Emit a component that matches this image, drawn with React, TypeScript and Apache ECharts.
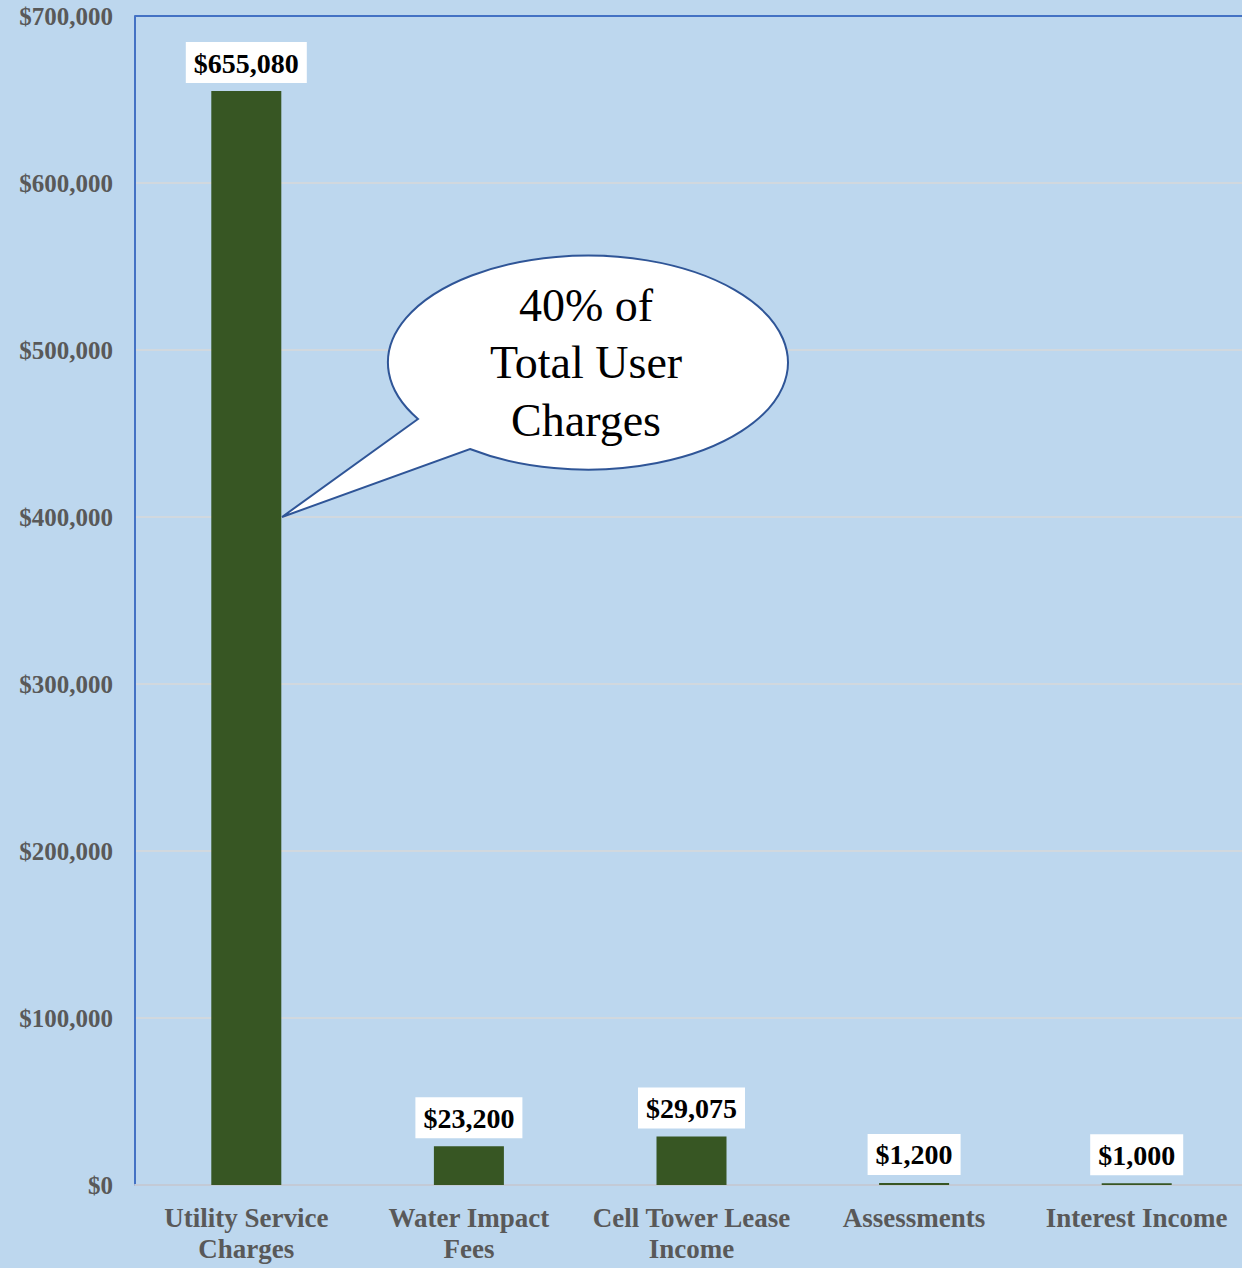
import React, { useEffect, useRef } from "react";
import * as echarts from "echarts";

const categories = [
  "Utility Service\nCharges",
  "Water Impact\nFees",
  "Cell Tower Lease\nIncome",
  "Assessments",
  "Interest Income",
];
const values = [655080, 23200, 29075, 1200, 1000];
const yMin = 0;
const yMax = 700000;
const yInterval = 100000;
const calloutLines = ["40% of", "Total User", "Charges"];

const fmt = (v: number) => "$" + v.toLocaleString("en-US");

echarts.graphic.registerShape(
  "callout",
  echarts.graphic.extendPath(
    "M418 419 L282 517 L470 449 A200 107 0 1 0 418 419 Z",
    {}
  ) as any
);

export default function App() {
  const ref = useRef<HTMLDivElement>(null);
  useEffect(() => {
    if (!ref.current) return;
    const chart = echarts.init(ref.current, undefined, { renderer: "svg" });
    const serif = "Liberation Serif, Times New Roman, serif";
    chart.setOption({
      animation: false,
      backgroundColor: "#BDD7EE",
      grid: { left: 135, right: 0, top: 16, bottom: 83 },
      xAxis: {
        type: "category",
        data: categories,
        axisTick: { show: false },
        axisLine: { lineStyle: { color: "#C3CAD6", width: 2 } },
        axisLabel: {
          interval: 0,
          margin: 17,
          color: "#595959",
          fontFamily: serif,
          fontWeight: "bold",
          fontSize: 27,
          lineHeight: 31,
        },
      },
      yAxis: {
        type: "value",
        min: yMin,
        max: yMax,
        interval: yInterval,
        axisLine: { show: true, lineStyle: { color: "#4472C4", width: 2 } },
        axisTick: { show: false },
        splitLine: { lineStyle: { color: "#D9D9D9", width: 1.5 } },
        axisLabel: {
          margin: 22,
          color: "#595959",
          fontFamily: serif,
          fontWeight: "bold",
          fontSize: 25,
          formatter: (v: number) => fmt(v),
        },
      },
      series: [
        {
          type: "bar",
          data: values,
          barWidth: 70,
          itemStyle: { color: "#375623" },
          label: {
            show: true,
            position: "top",
            distance: 8,
            formatter: (p: any) => fmt(p.value),
            backgroundColor: "#FFFFFF",
            padding: [6, 8, 5, 8],
            color: "#000000",
            fontFamily: serif,
            fontWeight: "bold",
            fontSize: 28,
            lineHeight: 30,
          },
          markLine: {
            silent: true,
            symbol: "none",
            label: { show: false },
            lineStyle: { color: "#4472C4", width: 2, type: "solid" },
            data: [{ yAxis: yMax }],
          },
        },
      ],
      graphic: [
        {
          type: "callout",
          x: 0,
          y: 0,
          z: 100,
          style: { fill: "#FFFFFF", stroke: "#2F5597", lineWidth: 2 },
        },
        ...calloutLines.map((t, i) => ({
          type: "text",
          z: 101,
          x: 586,
          y: 305 + i * 57.5,
          style: {
            text: t,
            fill: "#000000",
            font: `46px ${serif}`,
            textAlign: "center",
            textVerticalAlign: "middle",
          },
        })),
      ],
    });
    return () => chart.dispose();
  }, []);
  return (
    <div
      style={{
        position: "absolute",
        left: 0,
        top: 0,
        width: 1242,
        height: 1268,
        overflow: "hidden",
      }}
    >
      <div ref={ref} style={{ width: 1248, height: 1268 }} />
    </div>
  );
}
